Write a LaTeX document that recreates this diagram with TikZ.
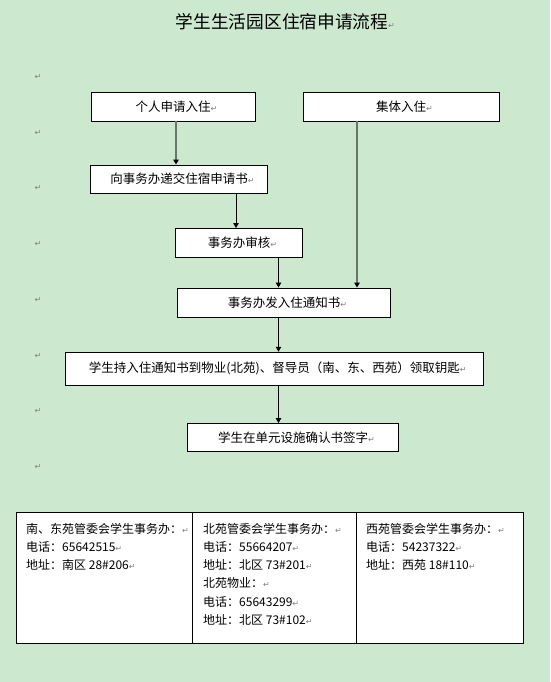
\documentclass[tikz,border=0pt]{standalone}
\usepackage{fontspec}
\usepackage{xcolor}
\usetikzlibrary{arrows.meta}
\setmainfont{Noto Sans CJK SC}
\newfontfamily\symfont{DejaVu Sans}
\definecolor{paper}{RGB}{204,232,207}
\definecolor{linegray}{RGB}{105,118,105}
\definecolor{markgray}{RGB}{128,128,128}
\newcommand\pmark{\textcolor{markgray}{\symfont\fontsize{8}{9}\selectfont ↵}}

\begin{document}
\begin{tikzpicture}[
  x=1pt, y=-1pt,
  box/.style={draw, fill=white, line width=0.9pt, inner sep=0pt,
    font=\fontsize{12.5}{15}\selectfont},
  arr/.style={-{Triangle[length=5pt,width=5.5pt,color=black]}, line width=0.8pt},
  grayarr/.style={arr, draw=linegray, line width=1.4pt},
  pm/.style={inner sep=0pt, font=\symfont\fontsize{8}{9}\selectfont, text=markgray},
  col/.style={anchor=north west, inner sep=0pt, align=left,
    font=\fontsize{12}{18.2}\selectfont}
]
\useasboundingbox (0,0) rectangle (550,682);
\fill[paper] (0,0) rectangle (550,682);

% title
\node[inner sep=0pt, font=\fontsize{17.7}{20}\selectfont] (title) at (282,22) {学生生活园区住宿申请流程\rlap{\pmark}};

% paragraph marks on the left
\foreach \k in {0,...,7}
  \node[pm] (m\k) at (38,{77+55.7*\k}) {↵};

% flow boxes
\node[box, minimum width=164pt, minimum height=29pt] (geren) at (173,106.5) {个人申请入住\rlap{\pmark}};
\node[box, minimum width=196pt, minimum height=29pt] (jiti) at (401,106.5) {集体入住\rlap{\pmark}};
\node[box, minimum width=177pt, minimum height=28pt] (dijiao) at (179,179) {向事务办递交住宿申请书\rlap{\pmark}};
\node[box, minimum width=127pt, minimum height=29pt] (shenhe) at (239,243) {事务办审核\rlap{\pmark}};
\node[box, minimum width=213pt, minimum height=29pt] (tongzhi) at (284,302.5) {事务办发入住通知书\rlap{\pmark}};
\node[box, minimum width=418pt, minimum height=33pt] (yaoshi) at (274.4,368.7) {学生持入住通知书到物业(北苑)、督导员（南、东、西苑）领取钥匙\rlap{\pmark}};
\node[box, minimum width=211pt, minimum height=28pt] (qianzi) at (293,437.5) {学生在单元设施确认书签字\rlap{\pmark}};

% connectors
\coordinate (c1) at (176,0);
\coordinate (c2) at (236,0);
\coordinate (spine) at (278.5,0);
\coordinate (c4) at (357,0);
\draw[grayarr] (geren.south -| c1) -- (dijiao.north -| c1);
\draw[arr] (dijiao.south -| c2) -- (shenhe.north -| c2);
\draw[arr] (shenhe.south -| spine) -- (tongzhi.north -| spine);
\draw[grayarr] (jiti.south -| c4) -- (tongzhi.north -| c4);
\draw[arr] (tongzhi.south -| spine) -- (yaoshi.north -| spine);
\draw[arr] (yaoshi.south -| spine) -- (qianzi.north -| spine);

% contact table
\draw[fill=white, line width=0.9pt] (16.5,512) rectangle (523,643);
\draw[line width=0.9pt] (192.5,512) -- (192.5,643);
\draw[line width=0.9pt] (356.5,512) -- (356.5,643);
\node[col] (south) at (26,523) {南、东苑管委会学生事务办：\pmark\\电话：65642515\pmark\\地址：南区 28\#206\pmark};
\node[col] (north) at (203,523) {北苑管委会学生事务办：\pmark\\电话：55664207\pmark\\地址：北区 73\#201\pmark\\北苑物业：\pmark\\电话：65643299\pmark\\地址：北区 73\#102\pmark};
\node[col] (west) at (366,523) {西苑管委会学生事务办：\pmark\\电话：54237322\pmark\\地址：西苑 18\#110\pmark};
\end{tikzpicture}
\end{document}
